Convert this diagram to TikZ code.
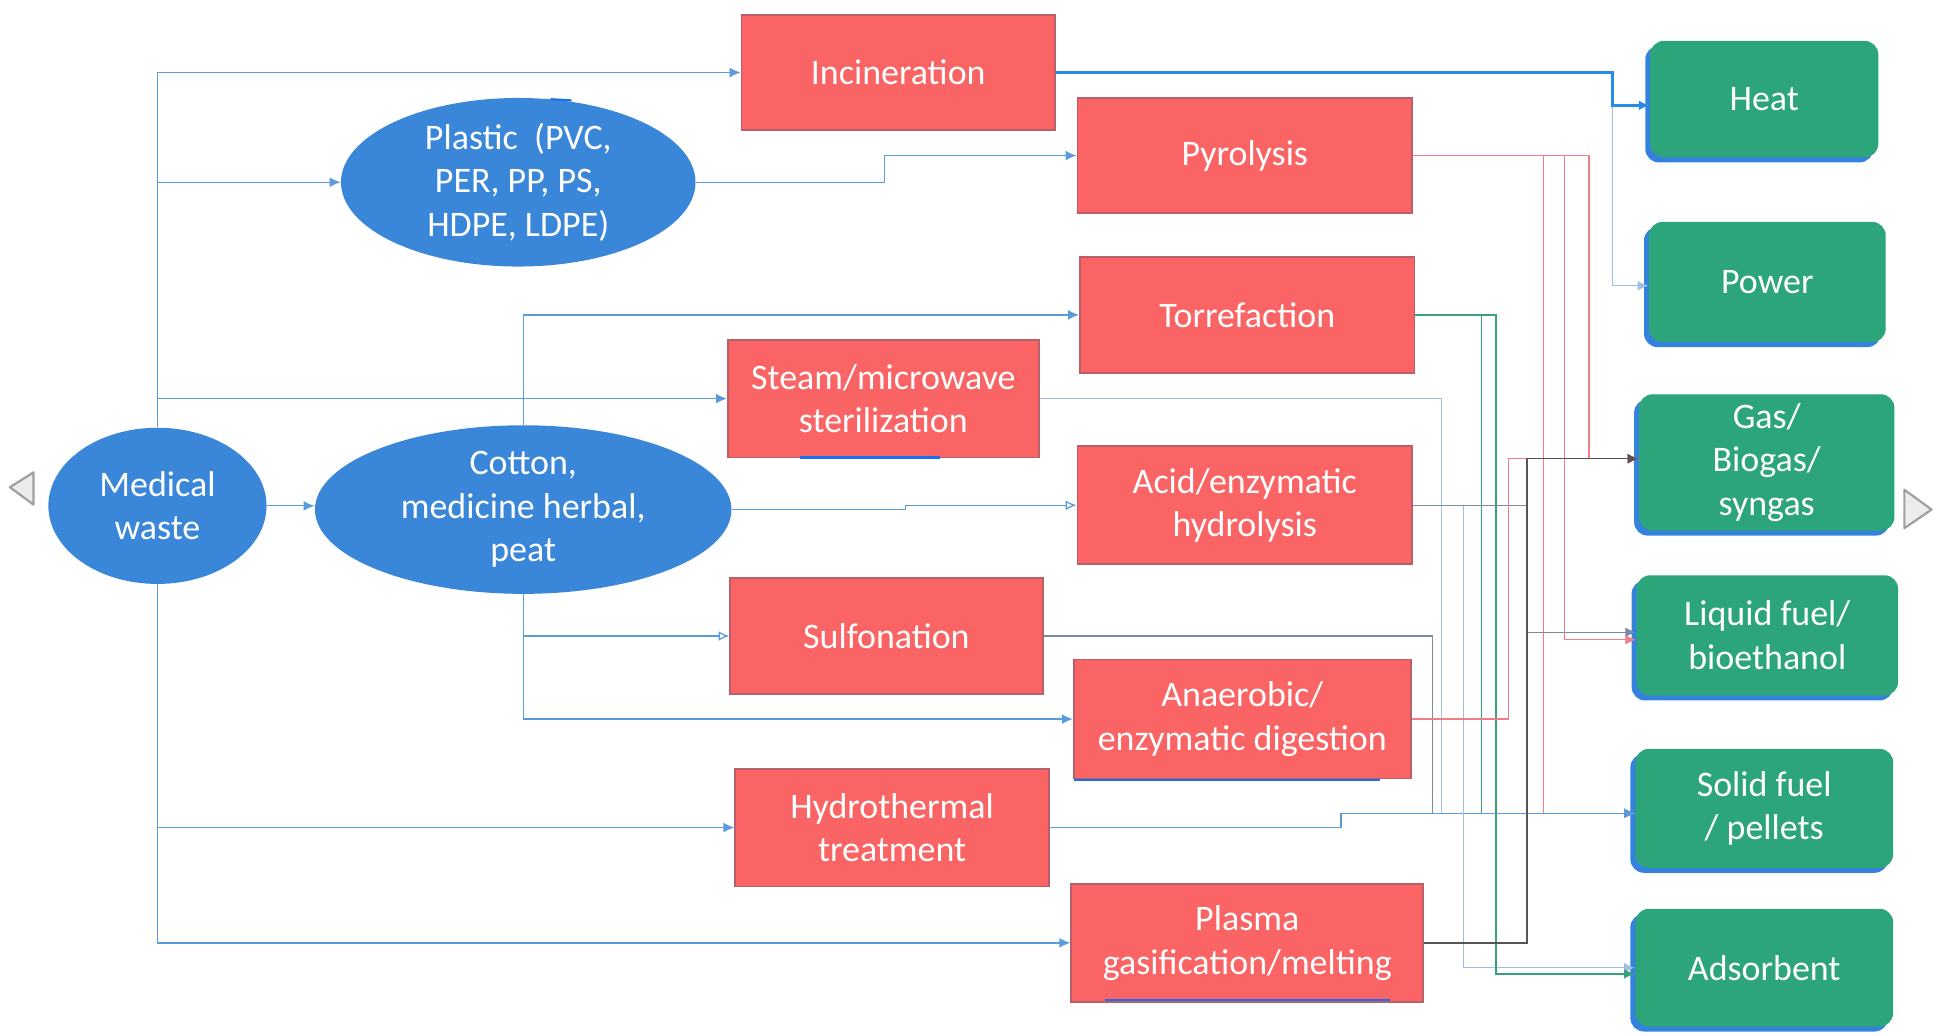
\documentclass[tikz,border=0pt]{standalone}
\usepackage{fontspec}
\setmainfont{Carlito}
\usetikzlibrary{shapes.geometric,arrows.meta,shadows,calc}
\definecolor{redfill}{RGB}{250,100,100}
\definecolor{redborder}{RGB}{185,95,105}
\definecolor{ellblue}{RGB}{58,135,218}
\definecolor{grn}{RGB}{44,165,122}
\definecolor{shblue}{RGB}{52,130,222}
\definecolor{lblue}{RGB}{90,155,220}
\definecolor{pblue}{RGB}{160,190,225}
\definecolor{gblue}{RGB}{120,140,170}
\definecolor{redline}{RGB}{240,125,135}
\definecolor{grline}{RGB}{55,160,125}
\definecolor{dkline}{RGB}{85,85,85}
\definecolor{hotblue}{RGB}{40,140,230}
\definecolor{artblue}{RGB}{30,110,235}
\begin{document}
\begin{tikzpicture}[x=0.02cm,y=-0.02cm,
  every node/.style={font=\fontsize{16.5}{20}\selectfont, text=white, align=center, inner sep=0pt},
  blob/.style={ellipse, fill=ellblue},
  redbox/.style={rectangle, fill=redfill, draw=redborder, line width=0.8pt},
  greenbox/.style={rectangle, rounded corners=0.22cm, fill=grn,
    general shadow={fill=shblue, shadow xshift=-0.08cm, shadow yshift=-0.08cm}},
  tip/.style={-{Latex[length=5pt,width=4.5pt]}},
  bl/.style={tip, draw=lblue, line width=0.6pt},
  blopen/.style={-{Latex[open,length=5pt,width=4.5pt]}, draw=lblue, line width=0.6pt},
  pal/.style={tip, draw=pblue, line width=0.6pt},
  gbl/.style={tip, draw=gblue, line width=0.6pt},
  redl/.style={tip, draw=redline, line width=0.6pt},
  grl/.style={tip, draw=grline, line width=0.6pt},
  dkl/.style={tip, draw=dkline, line width=0.6pt},
  hot/.style={tip, draw=hotblue, line width=1.2pt},
  tri/.style={draw=gray!75, fill=gray!15, line width=1pt, line join=round},
  art/.style={draw=artblue, line width=1pt}
]
\useasboundingbox[fill=white] (0,0) rectangle (1568,835);

% sources
\node[blob, minimum width=3.52cm, minimum height=2.52cm] (mw) at (127,408) {Medical\\waste};
\node[blob, minimum width=5.72cm, minimum height=2.72cm] (plastic) at (418,147) {Plastic\ \ (PVC,\\PER, PP, PS,\\HDPE, LDPE)};
\node[blob, minimum width=6.72cm, minimum height=2.72cm] (cotton) at (422,411) {Cotton,\\medicine herbal,\\peat};

% processes
\node[redbox, minimum width=5.06cm, minimum height=1.86cm] (inc) at (724.5,58.5) {Incineration};
\node[redbox, minimum width=5.40cm, minimum height=1.86cm] (pyr) at (1004,125.5) {Pyrolysis};
\node[redbox, minimum width=5.40cm, minimum height=1.88cm] (tor) at (1006,254) {Torrefaction};
\node[redbox, minimum width=5.02cm, minimum height=1.90cm] (steam) at (712.5,321.5) {Steam/microwave\\sterilization};
\node[redbox, minimum width=5.40cm, minimum height=1.90cm] (acid) at (1004,407.5) {Acid/enzymatic\\hydrolysis};
\node[redbox, minimum width=5.04cm, minimum height=1.88cm] (sulf) at (715,513) {Sulfonation};
\node[redbox, minimum width=5.44cm, minimum height=1.92cm] (anae) at (1002,580) {Anaerobic/\\enzymatic digestion};
\node[redbox, minimum width=5.06cm, minimum height=1.90cm] (hydro) at (719.5,667.5) {Hydrothermal\\treatment};
\node[redbox, minimum width=5.68cm, minimum height=1.90cm] (plasma) at (1006,760.5) {Plasma\\gasification/melting};

% products
\node[greenbox, minimum width=3.68cm, minimum height=1.88cm] (heat) at (1423,80) {Heat};
\node[greenbox, minimum width=3.82cm, minimum height=1.94cm] (power) at (1425.5,227.5) {Power};
\node[greenbox, minimum width=4.12cm, minimum height=2.20cm] (gas) at (1425,373) {Gas/\\Biogas/\\syngas};
\node[greenbox, minimum width=4.22cm, minimum height=1.94cm] (liquid) at (1425.5,512.5) {Liquid fuel/\\bioethanol};
\node[greenbox, minimum width=4.16cm, minimum height=1.92cm] (solid) at (1423,652) {Solid fuel\\/ pellets};
\node[greenbox, minimum width=4.16cm, minimum height=1.90cm] (ads) at (1423,780.5) {Adsorbent};

% medical waste branches
\draw[bl] (mw.north) |- (inc.west);
\draw[bl] (mw.north) |- (plastic.west);
\draw[bl] (mw.north) |- (steam.west);
\draw[bl] (mw.east) -- (mw.east -| cotton.west);
\draw[bl] (mw.south) |- (hydro.west);
\draw[bl] (mw.south) |- (plasma.west);

% plastic / cotton branches
\draw[bl] (plastic.east) -- ++(152,0) |- (pyr.west);
\draw[bl] (cotton.north) |- (tor.west);
\draw[blopen] (cotton.east) -- ++(140,0) |- (acid.west);
\draw[blopen] (cotton.south) |- (sulf.west);
\draw[bl] (cotton.south) |- (anae.west);

% incineration
\draw[pal] ($(inc.east)+(449,0)$) |- ($(power.west)+(0,3)$);
\draw[hot] (inc.east) -- ++(449,0) |- ($(heat.west)+(0,5)$);

% to solid fuel
\draw[pal] (steam.east) -- ++(324,0) |- ($(solid.west)+(0,4)$);
\draw[gbl] (sulf.east) -- ++(314,0) |- ($(solid.west)+(0,4)$);
\draw[grl] (tor.east) -- ++(53,0) |- ($(solid.west)+(0,4)$);
\draw[redl] (pyr.east) -- ++(105,0) |- ($(solid.west)+(0,4)$);
\draw[bl] (hydro.east) -- ++(235,0) |- ($(solid.west)+(0,4)$);

% to adsorbent
\draw[pal] (acid.east) -- ++(41,0) |- (ads.west);
\draw[grl] (tor.east) -- ++(65,0) |- ($(ads.west)+(0,5)$);

% to liquid fuel
\draw[gbl] (acid.east) -- ++(92,0) |- ($(liquid.west)+(0,-2.5)$);
\draw[redl] (pyr.east) -- ++(122,0) |- ($(liquid.west)+(0,3.5)$);

% to gas
\draw[redl] (pyr.east) -- ++(142,0) |- ($(gas.west)+(0,-3)$);
\draw[redl] (anae.east) -- ++(78,0) |- ($(gas.west)+(0,-3)$);
\draw[dkl] (plasma.east) -- ++(83,0) |- ($(gas.west)+(0,-3)$);

% page marks
\draw[tri] (8,393) -- (27,381) -- (27,407) -- cycle;
\draw[tri] (1536,395) -- (1558,411) -- (1536,426) -- cycle;
\draw[art] (645,369) -- (758,369);
\draw[art] (866,629) -- (1113,629);
\draw[art] (891,806.5) -- (1121,806.5);
\draw[art] (444,80) -- (461,81);
\end{tikzpicture}
\end{document}
